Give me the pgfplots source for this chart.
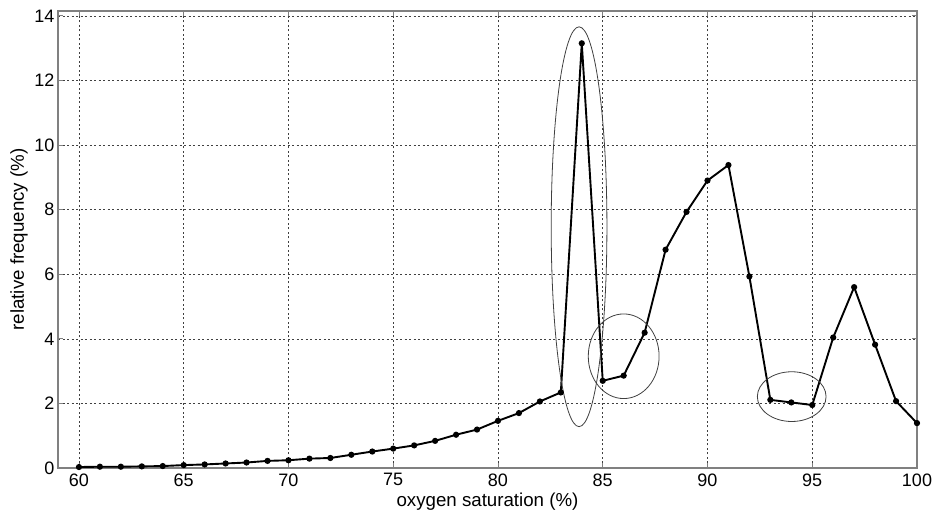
\documentclass[border=0pt]{standalone}
\usepackage{pgfplots}
\pgfplotsset{compat=1.18}
\usepackage{fontspec}
\setmainfont{Liberation Sans}
\begin{document}
\begin{tikzpicture}
\path[use as bounding box] (0,0) rectangle (936bp,518bp);
\begin{axis}[
  at={(58bp,50bp)}, anchor=south west,
  scale only axis, width=859bp, height=457bp,
  xmin=59, xmax=100, ymin=0, ymax=14.15,
  xtick={60,65,...,100}, ytick={0,2,...,14},
  /pgf/number format/assume math mode=true,
  tick label style={font=\fontsize{18bp}{21bp}\selectfont},
  label style={font=\fontsize{18.7bp}{22bp}\selectfont},
  xlabel={oxygen saturation (\%)},
  ylabel={relative frequency (\%)},
  xlabel style={at={(axis description cs:0.5,-0.0847)}, anchor=base},
  ylabel style={at={(axis description cs:-0.0396,0.5)}, anchor=base},
  xticklabel style={yshift=-2bp},
  grid=major,
  major grid style={black!75, line width=0.6bp, dash pattern=on 2bp off 2.5bp},
  axis line style={black!50, line width=1.3bp},
  tick align=inside, major tick length=5bp,
  tick style={black!50, line width=0.8bp},
  clip=false,
]
\addplot[black, line width=1.9bp, mark=*, mark size=2.1bp] coordinates {
(60,0.03) (61,0.04) (62,0.04) (63,0.05) (64,0.06) (65,0.09) (66,0.11)
(67,0.14) (68,0.17) (69,0.22) (70,0.24) (71,0.29) (72,0.31) (73,0.41)
(74,0.51) (75,0.60) (76,0.70) (77,0.84) (78,1.03) (79,1.19) (80,1.46)
(81,1.70) (82,2.06) (83,2.34) (84,13.15) (85,2.70) (86,2.86) (87,4.19)
(88,6.76) (89,7.93) (90,8.90) (91,9.38) (92,5.93) (93,2.11) (94,2.03)
(95,1.95) (96,4.04) (97,5.60) (98,3.82) (99,2.07) (100,1.39)
};
\draw[black!75, line width=0.8bp] (axis cs:83.87,7.47) ellipse [x radius=1.33, y radius=6.19];
\draw[black!75, line width=0.8bp] (axis cs:86.0,3.46) ellipse [x radius=1.69, y radius=1.31];
\draw[black!75, line width=0.8bp] (axis cs:94.02,2.21) ellipse [x radius=1.64, y radius=0.77];
\end{axis}
\end{tikzpicture}
\end{document}
